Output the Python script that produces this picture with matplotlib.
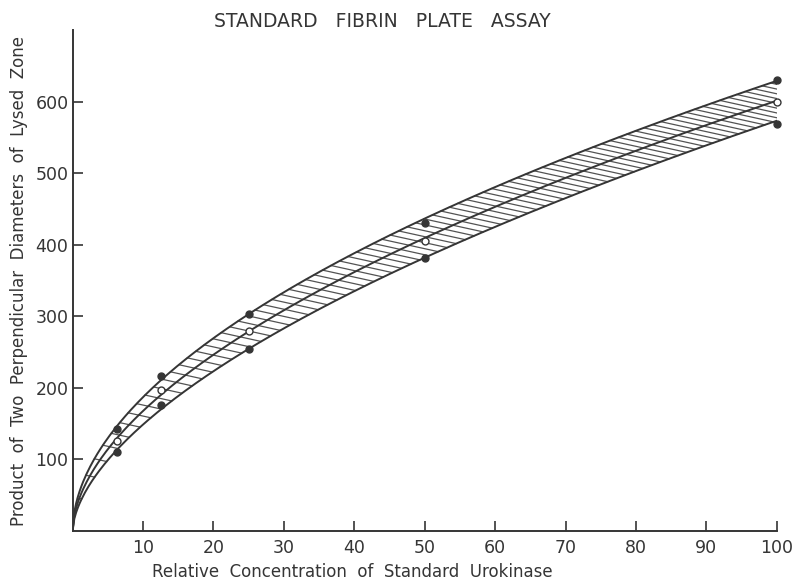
import matplotlib.pyplot as plt
import numpy as np

# relative concentration of standard urokinase
conc = [6.25, 12.5, 25, 50, 100]
upper = [143, 217, 304, 431, 630]
mean = [126, 197, 279, 406, 600]
lower = [110, 176, 254, 382, 569]

x_ticks = [10, 20, 30, 40, 50, 60, 70, 80, 90, 100]
y_ticks = [100, 200, 300, 400, 500, 600]

INK = "#353535"


def power_fit(xs, ys):
    # y = a * x**b, fitted in log space
    b, loga = np.polyfit(np.log(xs), np.log(ys), 1)
    return lambda x: np.exp(loga) * np.power(x, b)


f_up = power_fit(conc, upper)
f_mid = power_fit(conc, mean)
f_lo = power_fit(conc, lower)

fig = plt.figure(figsize=(7.94, 5.87), dpi=100)
ax = fig.add_axes([0.0914, 0.0954, 0.887, 0.853])
ax.set_xlim(0, 100)
ax.set_ylim(0, 700)

xs = np.linspace(0, 100, 400)
for f in (f_up, f_mid, f_lo):
    ax.plot(xs, f(xs), color=INK, lw=1.4)

# hatch strokes across the band: shallow strokes sloping down to the right
px_x, px_y = 7.04, 0.7155   # pixels per data unit
tilt = 0.22
for x0 in np.arange(0.7, 100, 1.2):
    lo_d, hi_d = 0.0, 30.0
    for _ in range(40):
        d = (lo_d + hi_d) / 2
        if (f_up(x0) - f_lo(x0 + d)) * px_y > tilt * d * px_x:
            lo_d = d
        else:
            hi_d = d
    x1 = x0 + d
    ax.plot([x0, x1], [f_up(x0), f_lo(x1)], color=INK, lw=0.9, alpha=0.85)

ax.plot(conc, upper, "o", color=INK, ms=5, clip_on=False, zorder=5)
ax.plot(conc, lower, "o", color=INK, ms=5, clip_on=False, zorder=5)
ax.plot(conc, mean, "o", mfc="white", mec=INK, ms=5, mew=1, clip_on=False, zorder=5)

ax.set_xticks(x_ticks)
ax.set_yticks(y_ticks)
ax.spines["top"].set_visible(False)
ax.spines["right"].set_visible(False)
for s in ("left", "bottom"):
    ax.spines[s].set_color(INK)
    ax.spines[s].set_linewidth(1.4)
ax.tick_params(direction="in", length=7, width=1.2, color=INK,
               labelcolor=INK, labelsize=12.5)
ax.tick_params(axis="x", pad=6)
ax.tick_params(axis="y", pad=3)

fig.text(0.482, 0.963, "STANDARD   FIBRIN   PLATE   ASSAY", ha="center",
         va="center", fontsize=13.5, color=INK)
ax.set_xlabel("Relative  Concentration  of  Standard  Urokinase",
              fontsize=12, color=INK, labelpad=4, x=0.397)
ax.set_ylabel("Product  of  Two  Perpendicular  Diameters  of  Lysed  Zone",
              fontsize=12, color=INK, labelpad=5, y=0.5)

fig.savefig("out.png", dpi=100)
